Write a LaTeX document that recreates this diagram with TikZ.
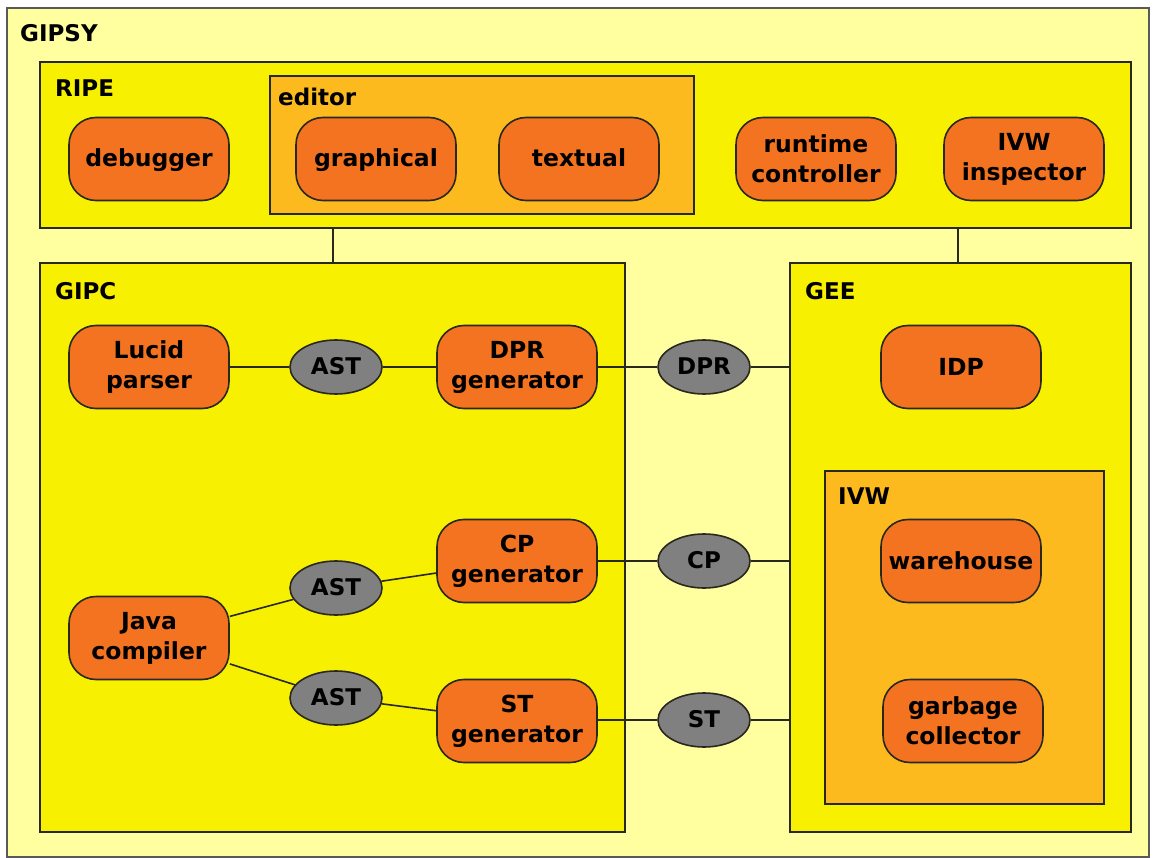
\documentclass[tikz,border=0pt]{standalone}
\usepackage{fontspec}
\setmainfont{DejaVu Sans}
\usetikzlibrary{shapes.geometric}
\definecolor{bgpale}{RGB}{255,255,160}
\definecolor{ylw}{RGB}{247,240,0}
\definecolor{orgbox}{RGB}{252,186,30}
\definecolor{orgnode}{RGB}{244,115,32}
\definecolor{grayov}{RGB}{128,128,128}
\definecolor{edge}{RGB}{40,40,30}
\tikzset{
  container/.style={draw=edge, line width=1.8pt},
  lbl/.style={anchor=west, inner sep=0pt, font=\fontsize{23}{27}\selectfont\bfseries},
  comp/.style={draw=edge, line width=1.6pt, fill=orgnode, rounded corners=27pt,
    minimum width=160pt, minimum height=83pt, align=center, inner sep=0pt,
    font=\fontsize{23.5}{30}\selectfont\bfseries},
  oneline/.style={comp, text height=20pt, text depth=4pt},
  data/.style={draw=edge, line width=1.6pt, fill=grayov, ellipse,
    minimum width=92pt, minimum height=54pt, inner sep=0pt,
    text height=17pt, text depth=2pt,
    font=\fontsize{23}{27}\selectfont\bfseries},
  conn/.style={draw=edge, line width=1.6pt}
}
\begin{document}
\begin{tikzpicture}[x=1pt,y=-1pt]
\useasboundingbox (0,0) rectangle (1153,858);
% outer
\draw[fill=bgpale, draw=gray!70!black, line width=1.5pt] (7,8) rectangle (1149,857);
\node[lbl] (gipsyl) at (20,33) {GIPSY};
% RIPE
\draw[container, fill=ylw] (40,62) rectangle (1131,228);
\coordinate (ripeA) at (333,228);
\coordinate (ripeB) at (958,228);
\node[lbl] (ripel) at (55,88) {RIPE};
\draw[container, fill=orgbox] (270,76) rectangle (694,214);
\node[lbl] (editorl) at (278,97) {editor};
\node[oneline] (debugger) at (149,159) {debugger};
\node[oneline] (graphical) at (376,159) {graphical};
\node[oneline] (textual) at (579,159) {textual};
\node[comp] (runtime) at (816,159) {runtime\\controller};
\node[comp] (ivwinsp) at (1024,159) {IVW\\inspector};
% GIPC
\draw[container, fill=ylw] (40,263) rectangle (625,832);
\coordinate (gipcT) at (333,263);
\node[lbl] (gipcl) at (55,291) {GIPC};
% GEE
\draw[container, fill=ylw] (790,263) rectangle (1131,832);
\coordinate (geeT) at (958,263);
\coordinate (geeA) at (790,367);
\coordinate (geeB) at (790,561);
\coordinate (geeC) at (790,720);
\node[lbl] (geel) at (805,291) {GEE};
\draw[container, fill=orgbox] (825,471) rectangle (1104,804);
\node[lbl] (ivwl) at (838,496) {IVW};
\draw[conn] (ripeA) -- (gipcT);
\draw[conn] (ripeB) -- (geeT);
% nodes
\node[comp] (lucid) at (149,367) {Lucid\\parser};
\node[data] (ast1) at (336,367) {AST};
\node[comp] (dprgen) at (517,367) {DPR\\generator};
\node[data] (dpr) at (704,367) {DPR};
\node[oneline] (idp) at (961,367) {IDP};
\node[comp] (cpgen) at (517,561) {CP\\generator};
\node[data] (cp) at (704,561) {CP};
\node[oneline] (warehouse) at (961,561) {warehouse};
\node[comp] (java) at (149,638) {Java\\compiler};
\node[data] (ast2) at (336,588) {AST};
\node[data] (ast3) at (336,698) {AST};
\node[comp] (stgen) at (517,721) {ST\\generator};
\node[data] (st) at (704,720) {ST};
\node[comp] (gc) at (963,721) {garbage\\collector};
% connectors
\draw[conn] (lucid) -- (ast1);
\draw[conn] (ast1) -- (dprgen);
\draw[conn] (dprgen) -- (dpr);
\draw[conn] (dpr) -- (geeA);
\draw[conn] (java) -- (ast2);
\draw[conn] (java) -- (ast3);
\draw[conn] (ast2) -- (cpgen);
\draw[conn] (ast3) -- (stgen);
\draw[conn] (cpgen.east |- cp) -- (cp);
\draw[conn] (cp) -- (geeB);
\draw[conn] (stgen.east |- st) -- (st);
\draw[conn] (st) -- (geeC);
\end{tikzpicture}
\end{document}
